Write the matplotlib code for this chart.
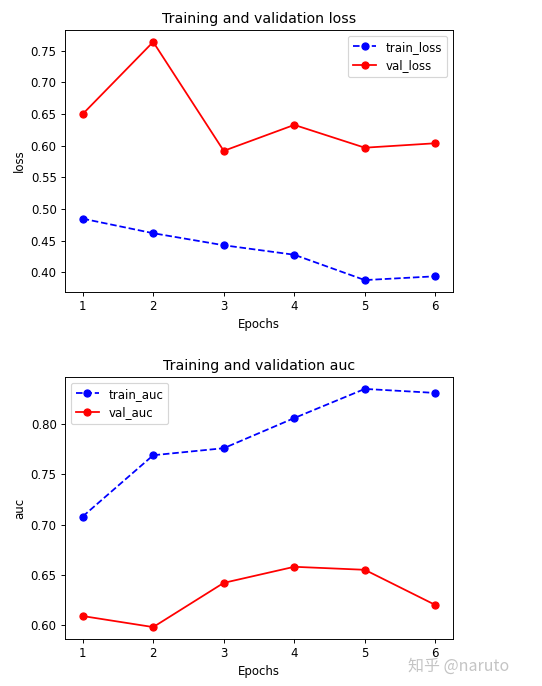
import matplotlib
matplotlib.use("Agg")
import matplotlib.pyplot as plt

epochs = [1, 2, 3, 4, 5, 6]
train_loss = [0.485, 0.462, 0.443, 0.428, 0.388, 0.394]
val_loss = [0.650, 0.764, 0.592, 0.633, 0.597, 0.604]
train_auc = [0.708, 0.769, 0.776, 0.806, 0.835, 0.831]
val_auc = [0.609, 0.598, 0.642, 0.658, 0.655, 0.620]

W, H, DPI = 542, 686, 85
fig = plt.figure(figsize=(W / DPI, H / DPI), dpi=DPI)

# loss
ax1 = fig.add_axes([65/W, 1 - 292/H, 388/W, 262/H])
ax1.plot(epochs, train_loss, 'bo--', label='train_loss')
ax1.plot(epochs, val_loss, 'ro-', label='val_loss')
ax1.set_title('Training and validation loss')
ax1.set_xlabel('Epochs')
ax1.set_ylabel('loss')
ax1.legend()

# auc
ax2 = fig.add_axes([65/W, 1 - 639/H, 388/W, 262/H])
ax2.plot(epochs, train_auc, 'bo--', label='train_auc')
ax2.plot(epochs, val_auc, 'ro-', label='val_auc')
ax2.set_title('Training and validation auc')
ax2.set_xlabel('Epochs')
ax2.set_ylabel('auc')
ax2.legend()

fig.text(408/W, 1 - 671/H, '知乎 @naruto', family=['Noto Sans CJK SC', 'DejaVu Sans'],
         fontsize=13.5, color='#c4c4c4')

fig.savefig('out.png', dpi=DPI)
